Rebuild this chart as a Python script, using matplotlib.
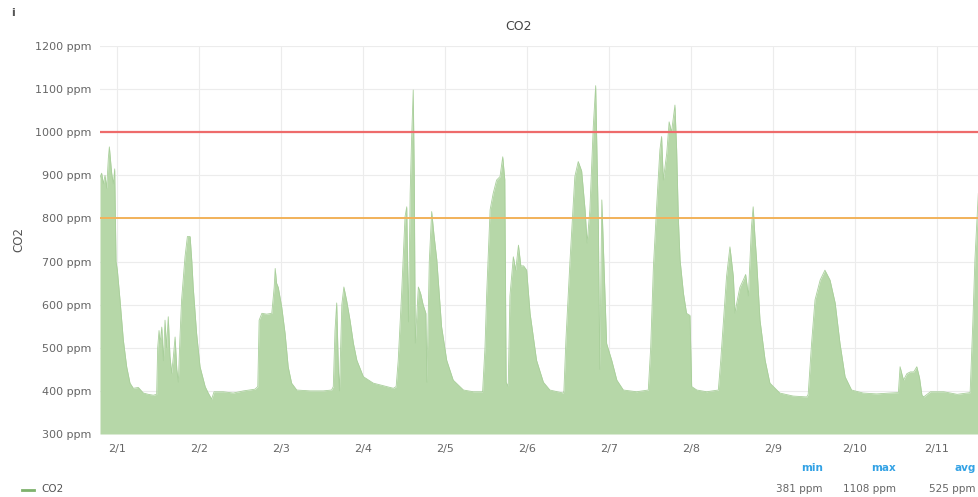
import matplotlib
matplotlib.use("Agg")
import matplotlib.pyplot as plt
import matplotlib.dates as mdates
import numpy as np
from datetime import datetime, timedelta

# hours since 2/1 00:00
hours = [-4.98, -4.49, -4.0, -3.51, -3.02, -2.54, -2.24, -1.85, -1.56, -1.07, -0.68, -0.29, 0.1, 0.88, 1.85,
         2.83, 3.8, 4.78, 6.24, 7.71, 9.17, 10.63, 11.6, 11.9, 12.3, 12.6, 13.1, 13.56, 14.05, 14.5, 15.0,
         15.5, 16.0, 16.5, 17.0, 17.5, 17.95, 18.4, 18.9, 19.4, 19.9, 20.6, 21.4, 21.9, 22.3, 23.3, 24.3,
         25.8, 26.7, 27.7, 28.4, 31.1, 34.0, 37.0, 40.4, 41.2, 41.6, 42.4, 43.8, 45.3, 46.0, 46.3, 46.7,
         47.2, 48.2, 49.2, 50.1, 51.1, 52.6, 56.5, 60.4, 62.8,
         63.3, 63.8, 64.3, 64.8, 65.1, 65.8, 66.4, 67.2, 68.2, 69.2, 70.2, 72.1, 75.0, 77.9, 80.9, 81.7,
         82.3, 83.3, 84.3, 84.8, 85.3, 85.8, 86.2, 86.7, 87.0, 87.3, 88.2, 88.9, 89.6, 90.4, 90.7, 91.4,
         92.1, 92.8, 93.6, 95.0, 96.5, 98.4, 101.4, 104.3, 107.0, 107.7, 108.2, 109.2, 110.1, 111.1, 112.1,
         112.9, 113.5, 113.9, 114.5, 115.0, 116.0, 116.7, 117.5, 118.2, 119.0, 119.9, 120.9, 122.8, 124.8,
         126.7, 130.6,
         130.8, 131.4, 132.6, 134.0, 135.0, 136.0, 137.0, 137.6, 138.4, 139.4, 140.1, 140.6, 140.9, 141.3,
         141.9, 142.5, 143.3, 144.8, 146.3, 148.2, 152.1, 155.5, 156.2, 157.0, 158.0, 158.9, 159.4, 159.9,
         160.9, 161.6, 162.3, 163.3, 163.8, 164.3, 164.8, 165.8, 166.7, 167.7, 168.2, 169.7, 172.6, 176.0,
         176.7, 177.4, 178.4, 179.4, 180.4, 180.9, 181.4, 182.3, 183.3, 184.0, 184.8, 185.7, 186.2, 186.7,
         187.2, 188.2, 189.7, 191.1, 194.0, 197.9, 201.9,
         202.3, 202.8, 203.3, 204.3, 205.8, 207.2, 208.7, 210.2, 211.6, 213.1, 215.0, 218.4, 222.3, 226.2,
         228.7, 229.2, 229.7, 230.2, 231.2, 232.2, 233.2, 234.1, 234.9, 235.6, 236.1, 238.1, 242.0, 245.9,
         249.7, 250.5, 251.1, 252.1]

co2 = [895, 905, 880, 900, 870, 940, 966, 930, 905, 880, 915, 700, 680, 611, 518,
       456, 418, 406, 408, 395, 392, 390, 392, 500, 540, 510, 548, 470, 564, 500, 572,
       480, 441, 480, 525, 450, 420, 520, 611, 660, 711, 758, 758, 700, 641, 533, 456,
       410, 395, 381, 398, 398, 395, 400, 404, 410, 564, 580, 578, 580, 640, 684, 650,
       640, 595, 533, 456, 418, 402, 400, 400, 402,
       410, 540, 604, 450, 400, 600, 641, 610, 564, 510, 471, 433, 418, 412, 406, 410,
       470, 626, 804, 827, 560, 858, 980, 1098, 900, 511, 641, 625, 600, 580, 420, 700,
       816, 760, 704, 549, 471, 425, 402, 398, 398, 500, 626, 820, 858, 889, 897,
       943, 890, 420, 410, 620, 711, 680, 738, 690, 690, 680, 580, 471, 420,
       402, 395,
       400, 520, 704, 897, 932, 910, 820, 743, 820, 1013, 1108, 900, 781, 450,
       843, 700, 510, 471, 425, 402, 398, 402, 500, 688, 835, 959, 990, 889,
       951, 1024, 1000, 1063, 960, 800, 704, 626, 580, 575, 410, 402, 398, 402,
       470, 549, 665, 734, 665, 580, 604, 640, 657, 670, 620, 781, 827, 760,
       704, 564, 471, 418, 395, 388, 386,
       392, 450, 511, 611, 657, 680, 657, 604, 511, 433, 402, 395, 393, 395,
       396, 456, 440, 425, 440, 444, 444, 456, 430, 390, 386, 398, 398, 392,
       396, 560, 704, 858]

day_labels = ["2/1", "2/2", "2/3", "2/4", "2/5", "2/6", "2/7", "2/8", "2/9", "2/10", "2/11"]
y_ticks = [300, 400, 500, 600, 700, 800, 900, 1000, 1100, 1200]
thresholds = [1000, 800]
stats_names = ["min", "max", "avg"]
stats_values = ["381 ppm", "1108 ppm", "525 ppm"]

base = datetime(2024, 2, 1)
times = [base + timedelta(hours=h) for h in hours]
tick_times = [base + timedelta(days=i) for i in range(len(day_labels))]

fig = plt.figure(figsize=(9.79, 4.97), dpi=100)
ax = fig.add_axes([100 / 979, 1 - 434 / 497, 1 - 100 / 979, 388 / 497])

fill_col = "#b6d7a8"
ax.fill_between(times, 300, co2, color=fill_col, linewidth=0, zorder=2)
ax.plot(times, co2, color="#a9cf9b", linewidth=0.6, zorder=3)

ax.axhline(thresholds[0], color="#ee6b6b", linewidth=1.6, zorder=4)
ax.axhline(thresholds[1], color="#f2b25a", linewidth=1.4, zorder=4)

ax.set_xlim(base + timedelta(hours=-4.98), base + timedelta(hours=252.3))
ax.set_ylim(300, 1200)
ax.set_yticks(y_ticks)
ax.set_yticklabels([f"{v} ppm" for v in y_ticks])
ax.set_xticks(tick_times)
ax.set_xticklabels(day_labels)

ax.grid(True, color="#ececec", linewidth=0.8, zorder=0)
for s in ax.spines.values():
    s.set_visible(False)
ax.tick_params(length=0, labelsize=8, colors="#666666", pad=6)
ax.tick_params(axis="x", pad=7)

ax.set_ylabel("CO2", fontsize=8.5, color="#555555", labelpad=7)
fig.text(519 / 979, 1 - 27 / 497, "CO2", ha="center", va="center", fontsize=9, color="#444444")
fig.text(13 / 979, 1 - 13 / 497, "i", ha="center", va="center", fontsize=8, color="#555555", fontweight="bold")

# legend
fig.add_artist(plt.Line2D([22 / 979, 34 / 979], [1 - 490 / 497] * 2, color="#7eb26d", linewidth=2))
fig.text(41 / 979, 1 - 489 / 497, "CO2", ha="left", va="center", fontsize=7.5, color="#555555")

stat_x = [823, 896, 976]
for x, n, v in zip(stat_x, stats_names, stats_values):
    fig.text(x / 979, 1 - 468 / 497, n, ha="right", va="center", fontsize=7.5, color="#33a2e5", fontweight="bold")
    fig.text(x / 979, 1 - 489 / 497, v, ha="right", va="center", fontsize=7.5, color="#666666")

fig.savefig("out.png", dpi=100, facecolor="white")
